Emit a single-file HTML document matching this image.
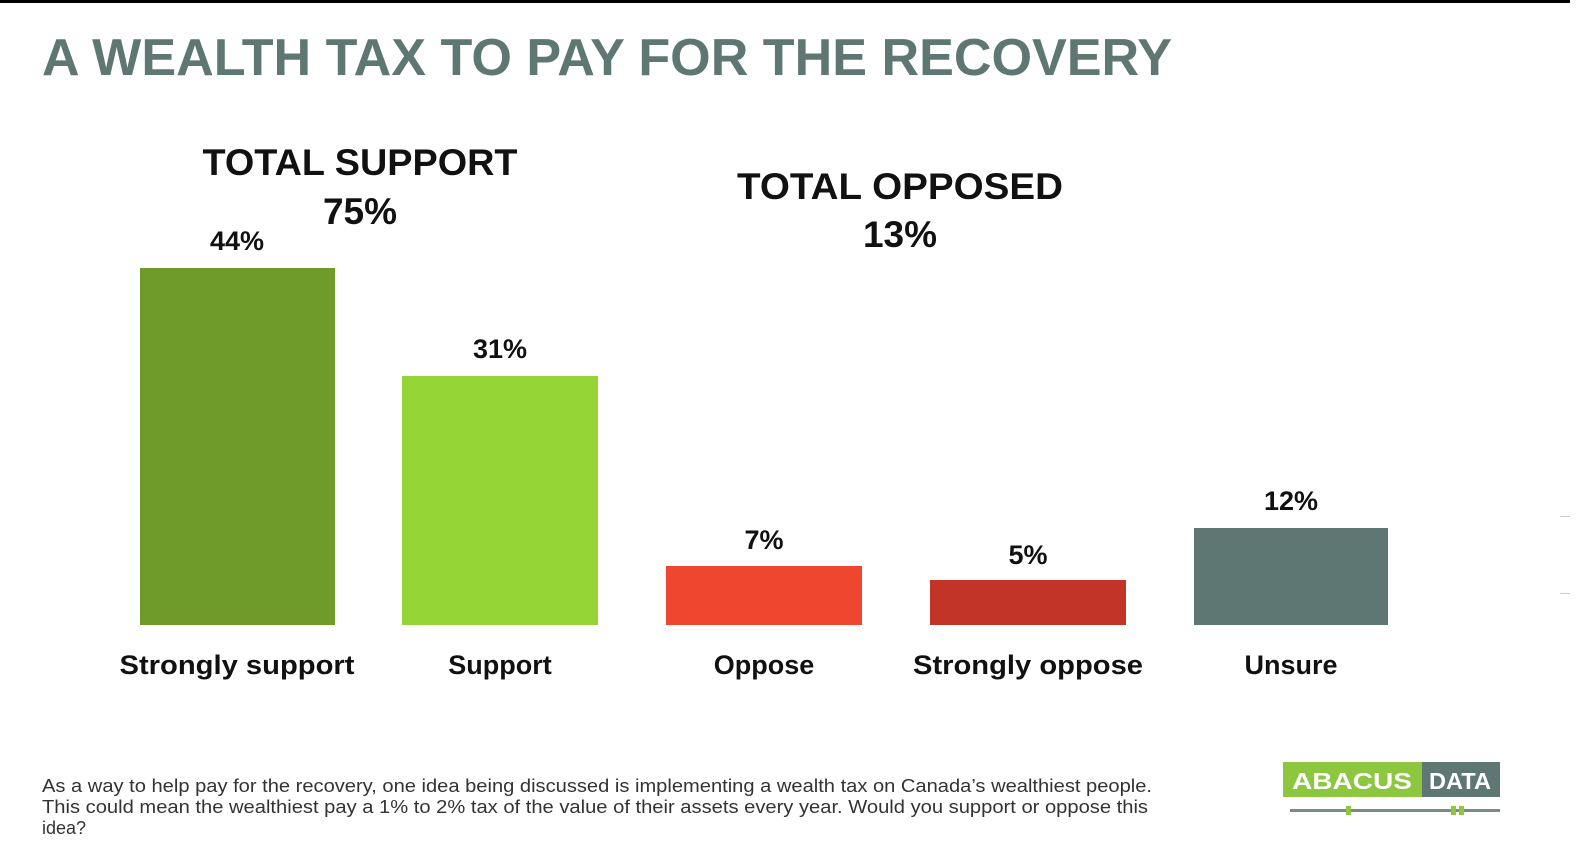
<!DOCTYPE html>
<html><head><meta charset="utf-8"><style>
html,body{margin:0;padding:0;background:#fff;}
svg{display:block;font-family:"Liberation Sans",sans-serif;font-weight:bold;}
</style></head><body>
<svg width="1578" height="868" viewBox="0 0 1578 868">
<rect x="0" y="0" width="1570" height="3" fill="#000"/>
<text x="42" y="75" font-size="52" fill="#5f7772" textLength="1130" lengthAdjust="spacingAndGlyphs">A WEALTH TAX TO PAY FOR THE RECOVERY</text>
<g fill="#111" text-anchor="middle">
<text x="360" y="175" font-size="37" textLength="315" lengthAdjust="spacingAndGlyphs">TOTAL SUPPORT</text>
<text x="360" y="224" font-size="37">75%</text>
<text x="900" y="199" font-size="37" textLength="326" lengthAdjust="spacingAndGlyphs">TOTAL OPPOSED</text>
<text x="900" y="247" font-size="37">13%</text>
<g font-size="27">
<text x="237" y="250">44%</text>
<text x="500" y="358">31%</text>
<text x="764" y="549">7%</text>
<text x="1028" y="564">5%</text>
<text x="1291" y="510">12%</text>
<text x="237" y="674" textLength="235" lengthAdjust="spacingAndGlyphs">Strongly support</text>
<text x="500" y="674">Support</text>
<text x="764" y="674">Oppose</text>
<text x="1028" y="674" textLength="230" lengthAdjust="spacingAndGlyphs">Strongly oppose</text>
<text x="1291" y="674">Unsure</text>
</g></g>
<rect x="140" y="268" width="195" height="357" fill="#6f9b28"/>
<rect x="402" y="376" width="196" height="249" fill="#95d535"/>
<rect x="666" y="566" width="196" height="59" fill="#ef4630"/>
<rect x="930" y="580" width="196" height="45" fill="#c13427"/>
<rect x="1194" y="528" width="194" height="97" fill="#5f7772"/>
<g font-size="18" fill="#333" style="font-weight:normal">
<text x="42" y="792" textLength="1110" lengthAdjust="spacingAndGlyphs">As a way to help pay for the recovery, one idea being discussed is implementing  a wealth tax on Canada’s wealthiest people.</text>
<text x="42" y="813" textLength="1106" lengthAdjust="spacingAndGlyphs">This could mean the wealthiest pay a 1% to 2% tax of the value of their assets every year. Would you support or oppose this</text>
<text x="42" y="834">idea?</text>
</g>
<rect x="1283" y="762" width="139" height="35" fill="#8dc63f"/>
<rect x="1422" y="762" width="78" height="35" fill="#5f7772"/>
<text x="1292" y="789" font-size="23" fill="#fff" textLength="120" lengthAdjust="spacingAndGlyphs">ABACUS</text>
<text x="1429" y="789" font-size="23" fill="#fff" textLength="62" lengthAdjust="spacingAndGlyphs">DATA</text>
<rect x="1290" y="809" width="210" height="3" fill="#7a8a86"/>
<rect x="1346" y="806" width="5" height="9" fill="#8dc63f"/>
<rect x="1451" y="806" width="5" height="9" fill="#8dc63f"/>
<rect x="1459" y="806" width="5" height="9" fill="#8dc63f"/>
<rect x="1560" y="516" width="10" height="1" fill="#ccc"/>
<rect x="1560" y="593" width="10" height="1" fill="#ccc"/>
</svg>
</body></html>
